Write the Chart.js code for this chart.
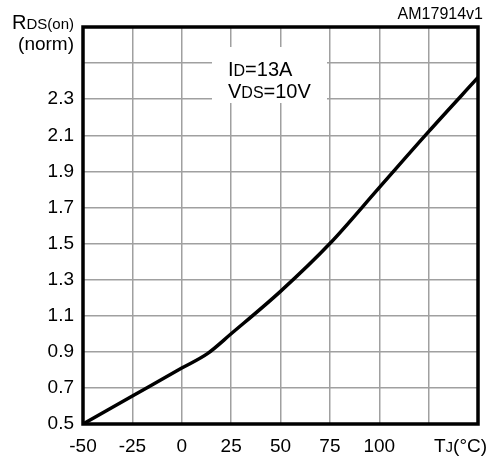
<!DOCTYPE html>
<html>
<head>
<meta charset="utf-8">
<script src="https://cdn.jsdelivr.net/npm/chart.js@4/dist/chart.umd.min.js"></script>
<style>
  html, body { margin: 0; padding: 0; background: #fff; }
  #wrap { width: 489px; height: 458px; }
</style>
</head>
<body>
<div id="wrap"><canvas id="chart" width="489" height="458"></canvas></div>
<script>
// valores
const temps = [-50, -25, 0, 13, 25, 50, 75, 100, 125, 150];
const rdsOn = [0.5, 0.655, 0.81, 0.89, 1.0, 1.235, 1.5, 1.81, 2.12, 2.42];

const xTicks = [-50, -25, 0, 25, 50, 75, 100, 125, 150];
const xTickLabels = ["-50", "-25", "0", "25", "50", "75", "100", "", ""];
const yTicks = [0.5, 0.7, 0.9, 1.1, 1.3, 1.5, 1.7, 1.9, 2.1, 2.3, 2.5, 2.7];
const yTickLabels = ["0.5", "0.7", "0.9", "1.1", "1.3", "1.5", "1.7", "1.9", "2.1", "2.3", "", ""];

const FONT = "'Liberation Sans', Arial, sans-serif";

// texto com partes de tamanhos diferentes (índices)
function drawParts(ctx, parts, x, y, align) {
  let total = 0;
  parts.forEach(p => {
    ctx.font = p[1] + "px " + FONT;
    total += ctx.measureText(p[0]).width;
  });
  let cx = align === "right" ? x - total : x;
  ctx.textAlign = "left";
  ctx.textBaseline = "alphabetic";
  parts.forEach(p => {
    ctx.font = p[1] + "px " + FONT;
    ctx.fillText(p[0], cx, y);
    cx += ctx.measureText(p[0]).width;
  });
}

const labelsPlugin = {
  id: "labels",
  beforeDatasetsDraw(chart) {
    const ctx = chart.ctx;
    ctx.save();
    ctx.fillStyle = "#fff";
    ctx.fillRect(212, 47, 115, 56);
    ctx.fillStyle = "#000";
    drawParts(ctx, [["I", 20], ["D", 16], ["=13A", 20]], 228, 76);
    drawParts(ctx, [["V", 20], ["DS", 16], ["=10V", 20]], 228, 98);
    ctx.restore();
  },
  afterDraw(chart) {
    const ctx = chart.ctx;
    const a = chart.chartArea;
    ctx.save();
    ctx.strokeStyle = "#000";
    ctx.lineWidth = 3.5;
    ctx.strokeRect(a.left, a.top, a.right - a.left, a.bottom - a.top);
    ctx.fillStyle = "#000";
    drawParts(ctx, [["R", 20], ["DS(on)", 15]], 74, 29, "right");
    drawParts(ctx, [["(norm)", 19]], 74, 50, "right");
    drawParts(ctx, [["AM17914v1", 16]], 483, 19, "right");
    drawParts(ctx, [["T", 19], ["J", 15], ["(°C)", 19]], 434, 452);
    ctx.restore();
  }
};

new Chart(document.getElementById("chart"), {
  type: "line",
  data: {
    datasets: [{
      data: temps.map((t, i) => ({ x: t, y: rdsOn[i] })),
      borderColor: "#000",
      borderWidth: 3.5,
      pointRadius: 0,
      cubicInterpolationMode: "monotone",
      fill: false
    }]
  },
  options: {
    responsive: false,
    animation: false,
    devicePixelRatio: 1,
    layout: { padding: { left: 0, top: 27, right: 7, bottom: 0 } },
    plugins: { legend: { display: false }, tooltip: { enabled: false } },
    scales: {
      x: {
        type: "linear",
        min: -50,
        max: 150,
        afterBuildTicks: s => { s.ticks = xTicks.map(v => ({ value: v })); },
        afterFit: s => { s.height = 34; },
        grid: { color: "#a0a0a0", lineWidth: 1.5, drawTicks: false },
        border: { display: false },
        ticks: {
          autoSkip: false,
          maxRotation: 0,
          padding: 11,
          color: "#000",
          font: { size: 19, family: FONT },
          callback: (v, i) => xTickLabels[i]
        }
      },
      y: {
        type: "linear",
        min: 0.5,
        max: 2.7,
        afterBuildTicks: s => { s.ticks = yTicks.map(v => ({ value: v })); },
        afterFit: s => { s.width = 83; },
        grid: { color: "#a0a0a0", lineWidth: 1.5, drawTicks: false },
        border: { display: false },
        ticks: {
          autoSkip: false,
          padding: 9,
          color: "#000",
          font: { size: 19, family: FONT },
          callback: (v, i) => yTickLabels[i]
        }
      }
    }
  },
  plugins: [labelsPlugin]
});
</script>
</body>
</html>
